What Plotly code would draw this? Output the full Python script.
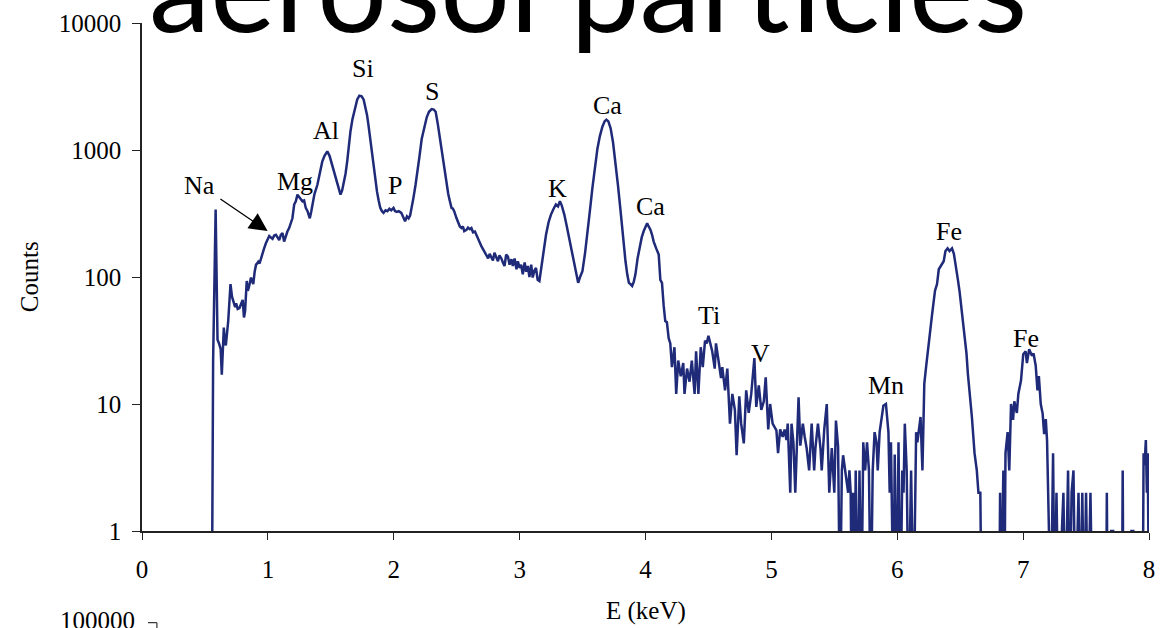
import math
import plotly.graph_objects as go

# ---- spectrum data (energy keV, counts); 0.2 marks empty channels (below axis) ----
region_na_mg = [
    (0.555, 0.2), (0.565, 22), (0.585, 340), (0.600, 32), (0.612, 30), (0.625, 27),
    (0.634, 17), (0.645, 35), (0.650, 40), (0.660, 30), (0.666, 29), (0.685, 45),
    (0.703, 88), (0.715, 70), (0.727, 65), (0.740, 58), (0.748, 62), (0.760, 56),
    (0.774, 57), (0.790, 62), (0.800, 66), (0.810, 48), (0.819, 54), (0.832, 93),
    (0.840, 78), (0.848, 82), (0.858, 90), (0.866, 99), (0.876, 92), (0.884, 88),
    (0.895, 110), (0.906, 125), (0.915, 128), (0.924, 132), (0.934, 128), (0.943, 137),
    (0.950, 150), (0.958, 160), (0.970, 168), (0.985, 185), (0.998, 200), (1.011, 210),
    (1.024, 205), (1.037, 200), (1.050, 212), (1.064, 215), (1.077, 205), (1.090, 195),
    (1.103, 215), (1.116, 222), (1.129, 190), (1.142, 210), (1.155, 228), (1.169, 243),
    (1.182, 265), (1.195, 290), (1.209, 372), (1.222, 395), (1.235, 445), (1.248, 430),
    (1.260, 410), (1.274, 395), (1.288, 400), (1.301, 350), (1.315, 330), (1.333, 290),
    (1.345, 330), (1.353, 372),
]
region_al_si_p_s = [
    (1.370, 450), (1.393, 530), (1.410, 640), (1.432, 810), (1.450, 900), (1.472, 975),
    (1.490, 900), (1.511, 760), (1.530, 650), (1.551, 565), (1.565, 500), (1.577, 445),
    (1.590, 480), (1.603, 545), (1.617, 650), (1.630, 810), (1.643, 1080), (1.656, 1400),
    (1.672, 1750), (1.690, 2130), (1.710, 2500), (1.727, 2680), (1.745, 2650), (1.761, 2490),
    (1.775, 2200), (1.788, 1880), (1.800, 1550), (1.814, 1220), (1.827, 950), (1.840, 720),
    (1.853, 570), (1.867, 470), (1.880, 400), (1.893, 350), (1.906, 330), (1.919, 320),
    (1.935, 335), (1.950, 330), (1.965, 345), (1.980, 335), (1.998, 350), (2.010, 330),
    (2.024, 325), (2.040, 330), (2.060, 320), (2.075, 300), (2.090, 275), (2.105, 300),
    (2.118, 290), (2.130, 305), (2.143, 350), (2.156, 418), (2.173, 530), (2.190, 680),
    (2.205, 900), (2.222, 1220), (2.240, 1500), (2.262, 1810), (2.280, 2000), (2.301, 2100),
    (2.318, 2080), (2.333, 2000), (2.350, 1600), (2.367, 1220), (2.380, 1000), (2.395, 800),
    (2.407, 680), (2.420, 530), (2.433, 450), (2.446, 395), (2.459, 350), (2.470, 345),
    (2.480, 330), (2.499, 290), (2.512, 270), (2.525, 250), (2.538, 243), (2.550, 250),
    (2.560, 230), (2.578, 235), (2.590, 245), (2.605, 238), (2.617, 243), (2.630, 225),
    (2.645, 228), (2.657, 216), (2.670, 200), (2.685, 185), (2.696, 175), (2.710, 165),
    (2.722, 158), (2.735, 150), (2.750, 140), (2.762, 152), (2.775, 145), (2.788, 135),
    (2.800, 155), (2.815, 140), (2.828, 133), (2.840, 148), (2.855, 140), (2.867, 130),
    (2.880, 122), (2.893, 150), (2.907, 145), (2.920, 125), (2.935, 138), (2.946, 122),
    (2.960, 140), (2.975, 115), (2.986, 133), (3.000, 118), (3.012, 125), (3.025, 105),
    (3.040, 130), (3.052, 110), (3.065, 122), (3.078, 100), (3.092, 125), (3.104, 99),
    (3.117, 112), (3.130, 118), (3.143, 95), (3.157, 93), (3.170, 115), (3.183, 130),
]
region_k_ca = [
    (3.197, 175), (3.210, 216), (3.230, 270), (3.249, 310), (3.270, 345), (3.288, 372),
    (3.305, 360), (3.320, 395), (3.335, 365), (3.355, 310), (3.375, 250), (3.394, 203),
    (3.415, 165), (3.434, 133), (3.450, 110), (3.465, 90), (3.480, 100), (3.499, 111),
    (3.520, 155), (3.539, 216), (3.558, 330), (3.578, 500), (3.598, 740), (3.618, 1025),
    (3.637, 1280), (3.657, 1520), (3.675, 1680), (3.689, 1735), (3.705, 1680), (3.723, 1480),
    (3.742, 1150), (3.762, 810), (3.782, 520), (3.802, 330), (3.822, 200), (3.841, 133),
    (3.855, 105), (3.868, 90), (3.880, 88), (3.894, 85), (3.907, 92), (3.920, 105),
    (3.937, 140), (3.955, 180), (3.970, 205), (3.986, 230), (4.000, 250), (4.013, 265),
    (4.025, 250), (4.040, 235), (4.052, 215), (4.065, 190), (4.085, 168), (4.105, 150),
    (4.118, 95), (4.131, 90), (4.144, 60), (4.157, 45), (4.170, 44), (4.184, 33),
]
region_ti_v = [
    (4.197, 30), (4.210, 19.5), (4.230, 28), (4.244, 12), (4.260, 22), (4.280, 16.5),
    (4.300, 21), (4.310, 12), (4.330, 19), (4.350, 15), (4.368, 22), (4.390, 12),
    (4.402, 26), (4.420, 12), (4.439, 28), (4.455, 19.5), (4.473, 31.5), (4.486, 30),
    (4.500, 34.5), (4.515, 30), (4.530, 26), (4.550, 19), (4.560, 30), (4.580, 22),
    (4.600, 16), (4.610, 19.5), (4.632, 12.8), (4.650, 19), (4.671, 7), (4.690, 12),
    (4.710, 9), (4.724, 3.95), (4.745, 11.5), (4.760, 7), (4.781, 4.9), (4.800, 12.8),
    (4.820, 8.5), (4.840, 12), (4.855, 17), (4.865, 23), (4.880, 9.5), (4.900, 14),
    (4.920, 9), (4.940, 10.5), (4.955, 16.2), (4.975, 6.3), (4.990, 10), (5.010, 7),
    (5.040, 6.2), (5.053, 4.1), (5.070, 6.3), (5.090, 5.5), (5.105, 6.3), (5.120, 5.2),
    (5.130, 7), (5.150, 2), (5.160, 7), (5.175, 5), (5.190, 2), (5.216, 11.3),
    (5.230, 4.7), (5.250, 7), (5.265, 5.5), (5.280, 4.5), (5.300, 3), (5.320, 7),
    (5.340, 3), (5.350, 4.5), (5.370, 7), (5.390, 4.5), (5.400, 3), (5.420, 6.3),
    (5.440, 10), (5.460, 2), (5.480, 4.5), (5.500, 2), (5.513, 7.4), (5.530, 4.6),
]
region_mn_fe = [
    (5.545, 0.2), (5.560, 3), (5.570, 3.95), (5.585, 3), (5.610, 2), (5.620, 3),
    (5.630, 2), (5.640, 0.2), (5.650, 2), (5.660, 0.2), (5.670, 3), (5.685, 0.2),
    (5.700, 3), (5.715, 0.2), (5.730, 5), (5.745, 3), (5.760, 5), (5.775, 3),
    (5.790, 0.2), (5.805, 3), (5.820, 6), (5.835, 5), (5.845, 3), (5.860, 6),
    (5.890, 9.7), (5.910, 10), (5.930, 6), (5.940, 2), (5.950, 5), (5.970, 0.2),
    (5.980, 4), (5.995, 0.2), (6.010, 5), (6.025, 0.2), (6.040, 3), (6.050, 2),
    (6.060, 7), (6.075, 3), (6.090, 0.2), (6.110, 3), (6.130, 0.2), (6.150, 6),
    (6.160, 5), (6.170, 6), (6.185, 7.9), (6.200, 3), (6.215, 14.5), (6.230, 20),
    (6.250, 31.5), (6.265, 40), (6.277, 51), (6.300, 78), (6.316, 88), (6.330, 115),
    (6.350, 125), (6.369, 133), (6.383, 160), (6.400, 168), (6.415, 160), (6.425, 165),
    (6.435, 168), (6.450, 152), (6.469, 118), (6.482, 95), (6.495, 77), (6.514, 54),
    (6.527, 42), (6.540, 31.5), (6.550, 25), (6.561, 17.3), (6.580, 11), (6.593, 7.9),
    (6.614, 4.1), (6.632, 3), (6.645, 2), (6.660, 2), (6.670, 0.2), (6.810, 0.2),
    (6.817, 2), (6.825, 0.2), (6.843, 3), (6.850, 0.2), (6.860, 4.1), (6.877, 6),
    (6.890, 3), (6.904, 10), (6.920, 7.5), (6.930, 10.5), (6.950, 8.5), (6.962, 12),
    (6.983, 15.3), (7.001, 24.7), (7.020, 26), (7.030, 21), (7.048, 27), (7.070, 24),
    (7.083, 25), (7.100, 20), (7.114, 12.8), (7.125, 16.6), (7.140, 10), (7.155, 8.4),
    (7.167, 5.8), (7.180, 7.6), (7.190, 5.2), (7.200, 2), (7.220, 0.2), (7.238, 4.1),
    (7.250, 0.2), (7.265, 2), (7.280, 0.2), (7.320, 2), (7.335, 0.2), (7.357, 3),
    (7.370, 0.2), (7.385, 2), (7.400, 3), (7.415, 0.2), (7.440, 2), (7.455, 0.2),
    (7.470, 2), (7.485, 0.2), (7.500, 2), (7.515, 0.2), (7.535, 2), (7.550, 0.2),
    (7.660, 0.2), (7.665, 2), (7.672, 0.2), (7.700, 1), (7.715, 1), (7.725, 0.2),
    (7.785, 0.2), (7.791, 3), (7.797, 0.2), (7.860, 1), (7.875, 1), (7.885, 0.2),
    (7.950, 0.2), (7.957, 4.1), (7.965, 3.3), (7.975, 5.2), (7.983, 2), (7.990, 4.1),
    (8.000, 0.2),
]

spectrum = region_na_mg + region_al_si_p_s + region_k_ca + region_ti_v + region_mn_fe
energy_kev = [p[0] for p in spectrum]
counts = [p[1] for p in spectrum]

# ---- peak labels ----
peak_labels = ["Na", "Mg", "Al", "Si", "P", "S", "K", "Ca", "Ca", "Ti", "V", "Mn", "Fe", "Fe"]
label_energy = [0.458, 1.216, 1.461, 1.754, 2.006, 2.306, 3.302, 3.697, 4.036, 4.502, 4.913, 5.908, 6.414, 7.022]
label_counts = [527, 566, 1422, 4355, 527, 2877, 499, 2234, 361, 49.4, 24.9, 14.0, 230, 32.7]

y_tick_vals = [1, 10, 100, 1000, 10000]
y_tick_text = ["1", "10", "100", "1000", "10000"]
x_tick_vals = [0, 1, 2, 3, 4, 5, 6, 7, 8]

SERIF = "Liberation Serif, Times New Roman, serif"
LINE_COLOR = "#1F2A78"

fig = go.Figure()
fig.add_trace(go.Scatter(
    x=energy_kev, y=counts, mode="lines",
    line=dict(color=LINE_COLOR, width=2.5),
    showlegend=False, hoverinfo="x+y",
))

annotations = []
for name, e, c in zip(peak_labels, label_energy, label_counts):
    annotations.append(dict(
        x=e, y=math.log10(c), xref="x", yref="y", text=name, showarrow=False,
        font=dict(family=SERIF, size=26, color="black"),
        xanchor="center", yanchor="middle",
    ))

# Na arrow
annotations.append(dict(
    x=0.998, y=math.log10(230), xref="x", yref="y",
    ax=0.611, ay=math.log10(419), axref="x", ayref="y",
    text="", showarrow=True, arrowhead=2, arrowsize=2.8, arrowwidth=1.3,
    arrowcolor="black",
))

# big title (partially cut at top)
annotations.append(dict(
    x=0.005, y=0.927, xref="paper", yref="paper", xanchor="left", yanchor="bottom",
    text="aerosol particles", showarrow=False,
    font=dict(family="Lato, Noto Sans, sans-serif", size=123, color="black"),
))

# axis titles
annotations.append(dict(
    x=-0.112, y=0.5, xref="paper", yref="paper", xanchor="center", yanchor="middle",
    text="Counts", textangle=-90, showarrow=False,
    font=dict(family=SERIF, size=25, color="black"),
))
annotations.append(dict(
    x=0.5, y=-0.158, xref="paper", yref="paper", xanchor="center", yanchor="middle",
    text="E (keV)", showarrow=False,
    font=dict(family=SERIF, size=25, color="black"),
))
# fragment of the next chart below
annotations.append(dict(
    x=-0.005, y=-0.146, xref="paper", yref="paper", xanchor="right", yanchor="top",
    text="100000", showarrow=False,
    font=dict(family=SERIF, size=25, color="black"),
))

shapes = [
    dict(type="line", xref="paper", yref="paper", x0=0.0059, x1=0.0148, y0=-0.1804, y1=-0.1804,
         line=dict(color="#333", width=1.2)),
    dict(type="line", xref="paper", yref="paper", x0=0.0148, x1=0.0148, y0=-0.1804, y1=-0.25,
         line=dict(color="#333", width=1.2)),
]

fig.update_layout(
    width=1165, height=628, autosize=False,
    margin=dict(l=142, r=10, t=21, b=97, pad=0),
    paper_bgcolor="white", plot_bgcolor="white",
    annotations=annotations, shapes=shapes,
    showlegend=False,
    xaxis=dict(
        range=[0, 8], tickvals=x_tick_vals, ticks="outside", ticklen=7, tickwidth=1.2,
        tickcolor="#222", showline=True, linecolor="#222", linewidth=1.5,
        showgrid=False, zeroline=False, ticklabelstandoff=8,
        tickfont=dict(family=SERIF, size=25, color="black"),
    ),
    yaxis=dict(
        type="log", range=[0, 4], tickvals=y_tick_vals, ticktext=y_tick_text,
        ticks="outside", ticklen=8, tickwidth=1.2, tickcolor="#222",
        showline=True, linecolor="#222", linewidth=1.5,
        showgrid=False, zeroline=False, ticklabelstandoff=6,
        tickfont=dict(family=SERIF, size=25, color="black"),
    ),
)

fig.write_html("out.html")
